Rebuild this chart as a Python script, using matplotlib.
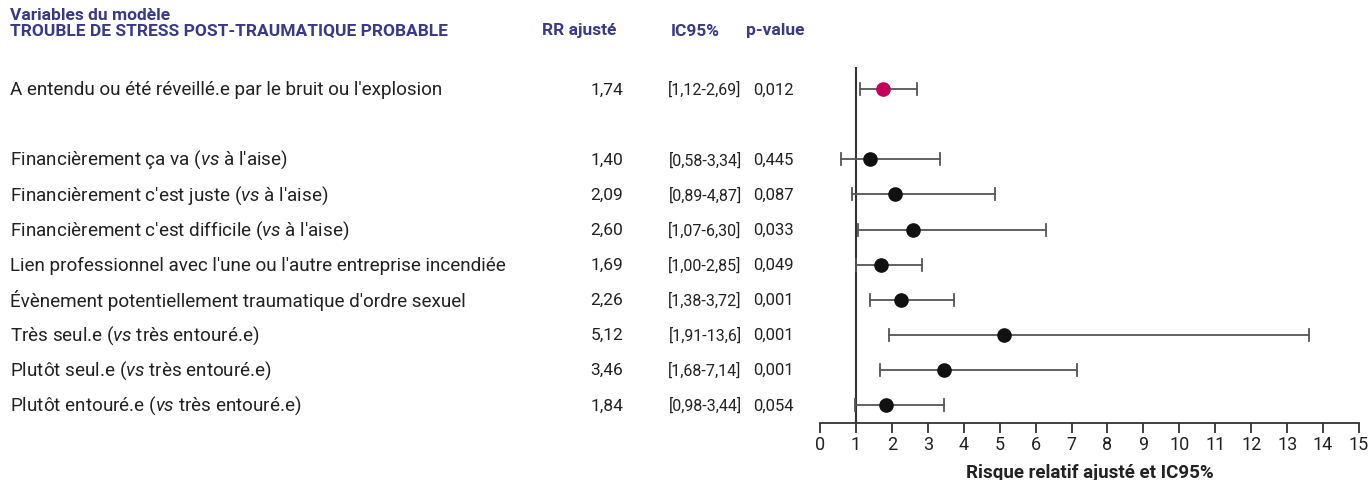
import matplotlib.pyplot as plt

# data
labels = [
    "A entendu ou été réveillé.e par le bruit ou l'explosion",
    "Financièrement ça va ($\\it{vs}$ à l'aise)",
    "Financièrement c'est juste ($\\it{vs}$ à l'aise)",
    "Financièrement c'est difficile ($\\it{vs}$ à l'aise)",
    "Lien professionnel avec l'une ou l'autre entreprise incendiée",
    "Évènement potentiellement traumatique d'ordre sexuel",
    "Très seul.e ($\\it{vs}$ très entouré.e)",
    "Plutôt seul.e ($\\it{vs}$ très entouré.e)",
    "Plutôt entouré.e ($\\it{vs}$ très entouré.e)",
]
rr = [1.74, 1.40, 2.09, 2.60, 1.69, 2.26, 5.12, 3.46, 1.84]
ci_low = [1.12, 0.58, 0.89, 1.07, 1.00, 1.38, 1.91, 1.68, 0.98]
ci_high = [2.69, 3.34, 4.87, 6.30, 2.85, 3.72, 13.6, 7.14, 3.44]
ci_text = ["[1,12-2,69]", "[0,58-3,34]", "[0,89-4,87]", "[1,07-6,30]", "[1,00-2,85]",
           "[1,38-3,72]", "[1,91-13,6]", "[1,68-7,14]", "[0,98-3,44]"]
pval = ["0,012", "0,445", "0,087", "0,033", "0,049", "0,001", "0,001", "0,001", "0,054"]
rows = [0, 2, 3, 4, 5, 6, 7, 8, 9]
colors = ["#c4005c"] + ["#111111"] * 8
xticks = list(range(0, 16))

plt.rcParams['font.family'] = ['Roboto', 'DejaVu Sans']
plt.rcParams['mathtext.fontset'] = 'custom'
plt.rcParams['mathtext.it'] = 'Roboto:italic'
plt.rcParams['mathtext.rm'] = 'Roboto'

fig = plt.figure(figsize=(13.68, 4.81), dpi=100)
ax = fig.add_axes([820 / 1368, 1 - 424 / 481, 539 / 1368, (424 - 68) / 481])

head = "#39398c"
gray = "#555555"

for i in range(len(rows)):
    y = rows[i]
    ax.plot([ci_low[i], ci_high[i]], [y, y], color=gray, lw=1.3, zorder=2)
    ax.plot([ci_low[i], ci_low[i]], [y - 0.17, y + 0.17], color=gray, lw=1.3, zorder=2)
    ax.plot([ci_high[i], ci_high[i]], [y - 0.17, y + 0.17], color=gray, lw=1.3, zorder=2)
    ax.plot(rr[i], y, 'o', color=colors[i], ms=9.5, zorder=3)

ax.axvline(1, color="#333333", lw=1.5, zorder=1)
ax.set_xlim(0, 15)
ax.set_ylim(9.51, -0.63)
ax.set_xticks(xticks)
ax.tick_params(axis='x', length=7, width=1.3, color="#333333", labelsize=13,
               pad=2, labelcolor="#222222")
ax.set_yticks([])
for s in ['top', 'right', 'left']:
    ax.spines[s].set_visible(False)
ax.spines['bottom'].set_color("#333333")
ax.spines['bottom'].set_linewidth(1.3)
ax.set_xlabel("Risque relatif ajusté et IC95%", fontsize=13.5, fontweight='bold',
              color="#222222", labelpad=7)

# text table
def ypx(y):
    return 1 - y / 481

fig.text(10 / 1368, ypx(15), "Variables du modèle", fontsize=12.5, fontweight='bold',
         color=head, va='center')
fig.text(10 / 1368, ypx(31), "TROUBLE DE STRESS POST-TRAUMATIQUE PROBABLE", fontsize=12.5,
         fontweight='bold', color=head, va='center')
fig.text(579 / 1368, ypx(31), "RR ajusté", fontsize=12.5, fontweight='bold', color=head,
         va='center', ha='center')
fig.text(695 / 1368, ypx(31), "IC95%", fontsize=12.5, fontweight='bold', color=head,
         va='center', ha='center')
fig.text(775 / 1368, ypx(31), "p-value", fontsize=12.5, fontweight='bold', color=head,
         va='center', ha='center')

for i in range(len(rows)):
    ypos = 90 + rows[i] * 35.1
    fig.text(10 / 1368, ypx(ypos), labels[i], fontsize=13.6, color="#222222", va='center')
    fig.text(607 / 1368, ypx(ypos), f"{rr[i]:.2f}".replace(".", ","), fontsize=12.5,
             color="#222222", va='center', ha='center')
    fig.text(705 / 1368, ypx(ypos), ci_text[i], fontsize=11.5, color="#222222",
             va='center', ha='center')
    fig.text(773 / 1368, ypx(ypos), pval[i], fontsize=12, color="#222222",
             va='center', ha='center')

fig.savefig("out.png", dpi=100)
